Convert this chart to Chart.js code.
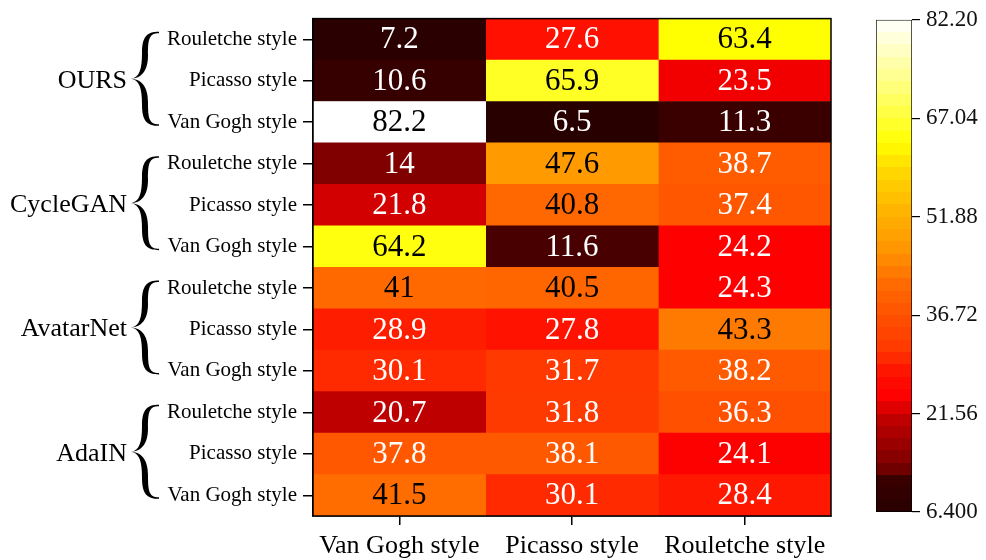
<!DOCTYPE html>
<html>
<head>
<meta charset="utf-8">
<script src="https://cdn.jsdelivr.net/npm/chart.js@4.4.0/dist/chart.umd.min.js"></script>
<style>
body { margin: 0; background: #fff; }
#wrap { position: relative; width: 986px; height: 560px; background: #fff; }
#heat { position: absolute; left: 0; top: 0; }
#bar { position: absolute; left: 860px; top: 0; }
</style>
</head>
<body>
<div id="wrap">
  <canvas id="heat" width="860" height="560"></canvas>
  <canvas id="bar" width="126" height="560"></canvas>
</div>
<script>
// rows top to bottom, 3 per method
var rowLabels = [
  'Rouletche style', 'Picasso style', 'Van Gogh style',
  'Rouletche style', 'Picasso style', 'Van Gogh style',
  'Rouletche style', 'Picasso style', 'Van Gogh style',
  'Rouletche style', 'Picasso style', 'Van Gogh style'
];
var groupLabels = ['OURS', 'CycleGAN', 'AvatarNet', 'AdaIN'];
var colLabels = ['Van Gogh style', 'Picasso style', 'Rouletche style'];

var vanGoghValues   = [7.2, 10.6, 82.2, 14, 21.8, 64.2, 41, 28.9, 30.1, 20.7, 37.8, 41.5];
var picassoValues   = [27.6, 65.9, 6.5, 47.6, 40.8, 11.6, 40.5, 27.8, 31.7, 31.8, 38.1, 30.1];
var rouletcheValues = [63.4, 23.5, 11.3, 38.7, 37.4, 24.2, 24.3, 43.3, 38.2, 36.3, 24.1, 28.4];

var scaleMin = 6.4;
var scaleMax = 82.2;
var scaleTicks = [6.4, 21.56, 36.72, 51.88, 67.04, 82.2];
var scaleTickLabels = ['6.400', '21.56', '36.72', '51.88', '67.04', '82.20'];

var FONT = '"Liberation Serif", "Times New Roman", serif';

// black -> red -> orange -> yellow -> white
var stops = [
  [0.00, [40, 0, 0]],
  [0.065, [58, 0, 0]],
  [0.075, [96, 0, 0]],
  [0.10, [128, 0, 0]],
  [0.19, [192, 0, 0]],
  [0.235, [255, 0, 0]],
  [0.28, [255, 16, 0]],
  [0.33, [255, 56, 0]],
  [0.40, [255, 82, 0]],
  [0.46, [255, 106, 0]],
  [0.54, [255, 153, 0]],
  [0.60, [255, 175, 0]],
  [0.70, [255, 220, 0]],
  [0.75, [255, 255, 0]],
  [0.85, [255, 255, 110]],
  [1.00, [255, 255, 255]]
];

function heatColor(v) {
  var t = (v - scaleMin) / (scaleMax - scaleMin);
  t = Math.max(0, Math.min(1, t));
  for (var i = 1; i < stops.length; i++) {
    if (t <= stops[i][0]) {
      var a = stops[i - 1], b = stops[i];
      var f = (t - a[0]) / (b[0] - a[0]);
      var c = [0, 1, 2].map(function(k) { return Math.round(a[1][k] + (b[1][k] - a[1][k]) * f); });
      return 'rgb(' + c.join(',') + ')';
    }
  }
  return 'rgb(255,255,255)';
}

var columns = [vanGoghValues, picassoValues, rouletcheValues];

function columnDataset(values, col) {
  return {
    label: colLabels[col],
    data: values.map(function() { return [col, col + 1]; }),
    backgroundColor: values.map(heatColor),
    borderWidth: 0,
    grouped: false,
    barPercentage: 1,
    categoryPercentage: 1
  };
}

// one half of a curly brace, s = -1 upper, +1 lower
function braceHalf(ctx, x0, W, M, h, s, t) {
  var Y = function(d) { return M + s * (h - d); };
  var ax = x0 + W * 0.5;
  ctx.beginPath();
  ctx.moveTo(x0 + W, Y(0));
  ctx.bezierCurveTo(x0 + W * 0.55, Y(0), ax - t / 2, Y(h * 0.12), ax - t / 2, Y(h * 0.45));
  ctx.bezierCurveTo(ax - t / 2, Y(h * 0.8), x0 + W * 0.3, Y(h * 0.97), x0, Y(h));
  ctx.bezierCurveTo(x0 + W * 0.35, Y(h * 0.99), ax + t / 2, Y(h * 0.85), ax + t / 2, Y(h * 0.5));
  ctx.bezierCurveTo(ax + t / 2, Y(h * 0.15), x0 + W * 0.65, Y(1.5), x0 + W, Y(1.5));
  ctx.closePath();
  ctx.fill();
}

var cellText = {
  id: 'cellText',
  afterDatasetsDraw: function(chart) {
    var ctx = chart.ctx, xs = chart.scales.x, ys = chart.scales.y, a = chart.chartArea;
    ctx.save();
    ctx.font = '31px ' + FONT;
    ctx.textAlign = 'center';
    ctx.textBaseline = 'middle';
    columns.forEach(function(values, col) {
      values.forEach(function(v, row) {
        ctx.fillStyle = v >= 40 ? '#000' : '#fff';
        ctx.fillText(String(v), xs.getPixelForValue(col + 0.5), ys.getPixelForValue(row) + 1);
      });
    });
    ctx.strokeStyle = '#000';
    ctx.lineWidth = 1.5;
    ctx.strokeRect(a.left, a.top, a.right - a.left, a.bottom - a.top);
    ctx.restore();
  },
  afterDraw: function(chart) {
    var ctx = chart.ctx, ys = chart.scales.y;
    ctx.save();
    ctx.fillStyle = '#000';
    groupLabels.forEach(function(name, g) {
      var mid = ys.getPixelForValue(g * 3 + 1);
      ctx.font = '26px ' + FONT;
      ctx.textAlign = 'right';
      ctx.textBaseline = 'middle';
      ctx.fillText(name, 127, mid);
      braceHalf(ctx, 131, 28, mid - 2, 47, -1, 6);
      braceHalf(ctx, 131, 28, mid - 2, 47, 1, 6);
    });
    ctx.restore();
  }
};

new Chart(document.getElementById('heat'), {
  type: 'bar',
  data: {
    labels: rowLabels,
    datasets: columns.map(columnDataset)
  },
  options: {
    responsive: false,
    animation: false,
    devicePixelRatio: 1,
    indexAxis: 'y',
    layout: { padding: { left: 0, top: 17, right: 29, bottom: 0 } },
    plugins: { legend: { display: false }, tooltip: { enabled: false } },
    scales: {
      x: {
        type: 'linear',
        min: 0,
        max: 3,
        afterBuildTicks: function(s) { s.ticks = [{ value: 0.5 }, { value: 1.5 }, { value: 2.5 }]; },
        afterFit: function(s) { s.height = 44; },
        ticks: {
          callback: function(v, i) { return colLabels[i]; },
          color: '#000',
          font: { family: FONT, size: 26 },
          padding: 6,
          maxRotation: 0
        },
        grid: { drawOnChartArea: false, tickLength: 9, color: '#000', lineWidth: 1.5 },
        border: { color: '#000', width: 1.5 }
      },
      y: {
        type: 'category',
        afterFit: function(s) { s.width = 313; },
        ticks: {
          color: '#000',
          font: { family: FONT, size: 21 },
          padding: 6
        },
        grid: { drawOnChartArea: false, offset: false, tickLength: 10, color: '#000', lineWidth: 1.5 },
        border: { color: '#000', width: 1.5 }
      }
    }
  },
  plugins: [cellText]
});

// colour bar
new Chart(document.getElementById('bar'), {
  type: 'bar',
  data: {
    labels: [''],
    datasets: [{
      data: [[scaleMin, scaleMax]],
      backgroundColor: function(c) {
        var chart = c.chart;
        if (!chart.chartArea) return '#fff';
        var ys = chart.scales.y;
        var g = chart.ctx.createLinearGradient(0, ys.getPixelForValue(scaleMin), 0, ys.getPixelForValue(scaleMax));
        var n = 40;
        for (var i = 0; i < n; i++) {
          var col = heatColor(scaleMin + (i + 0.5) * (scaleMax - scaleMin) / n);
          g.addColorStop(i / n, col);
          g.addColorStop((i + 1) / n, col);
        }
        return g;
      },
      borderColor: '#000',
      borderWidth: 1,
      borderSkipped: false,
      barPercentage: 1,
      categoryPercentage: 1
    }]
  },
  options: {
    responsive: false,
    animation: false,
    devicePixelRatio: 1,
    layout: { padding: { left: 16, top: 15, right: 0, bottom: 48 } },
    plugins: { legend: { display: false }, tooltip: { enabled: false } },
    scales: {
      x: { display: false },
      y: {
        position: 'right',
        min: scaleMin,
        max: scaleMax,
        afterBuildTicks: function(s) { s.ticks = scaleTicks.map(function(v) { return { value: v }; }); },
        afterFit: function(s) { s.width = 74; },
        ticks: {
          callback: function(v, i) { return scaleTickLabels[i]; },
          color: '#111',
          font: { family: FONT, size: 23 },
          padding: 6
        },
        grid: { drawOnChartArea: false, tickLength: 8, color: '#000', lineWidth: 1.2 },
        border: { display: false }
      }
    }
  }
});
</script>
</body>
</html>
